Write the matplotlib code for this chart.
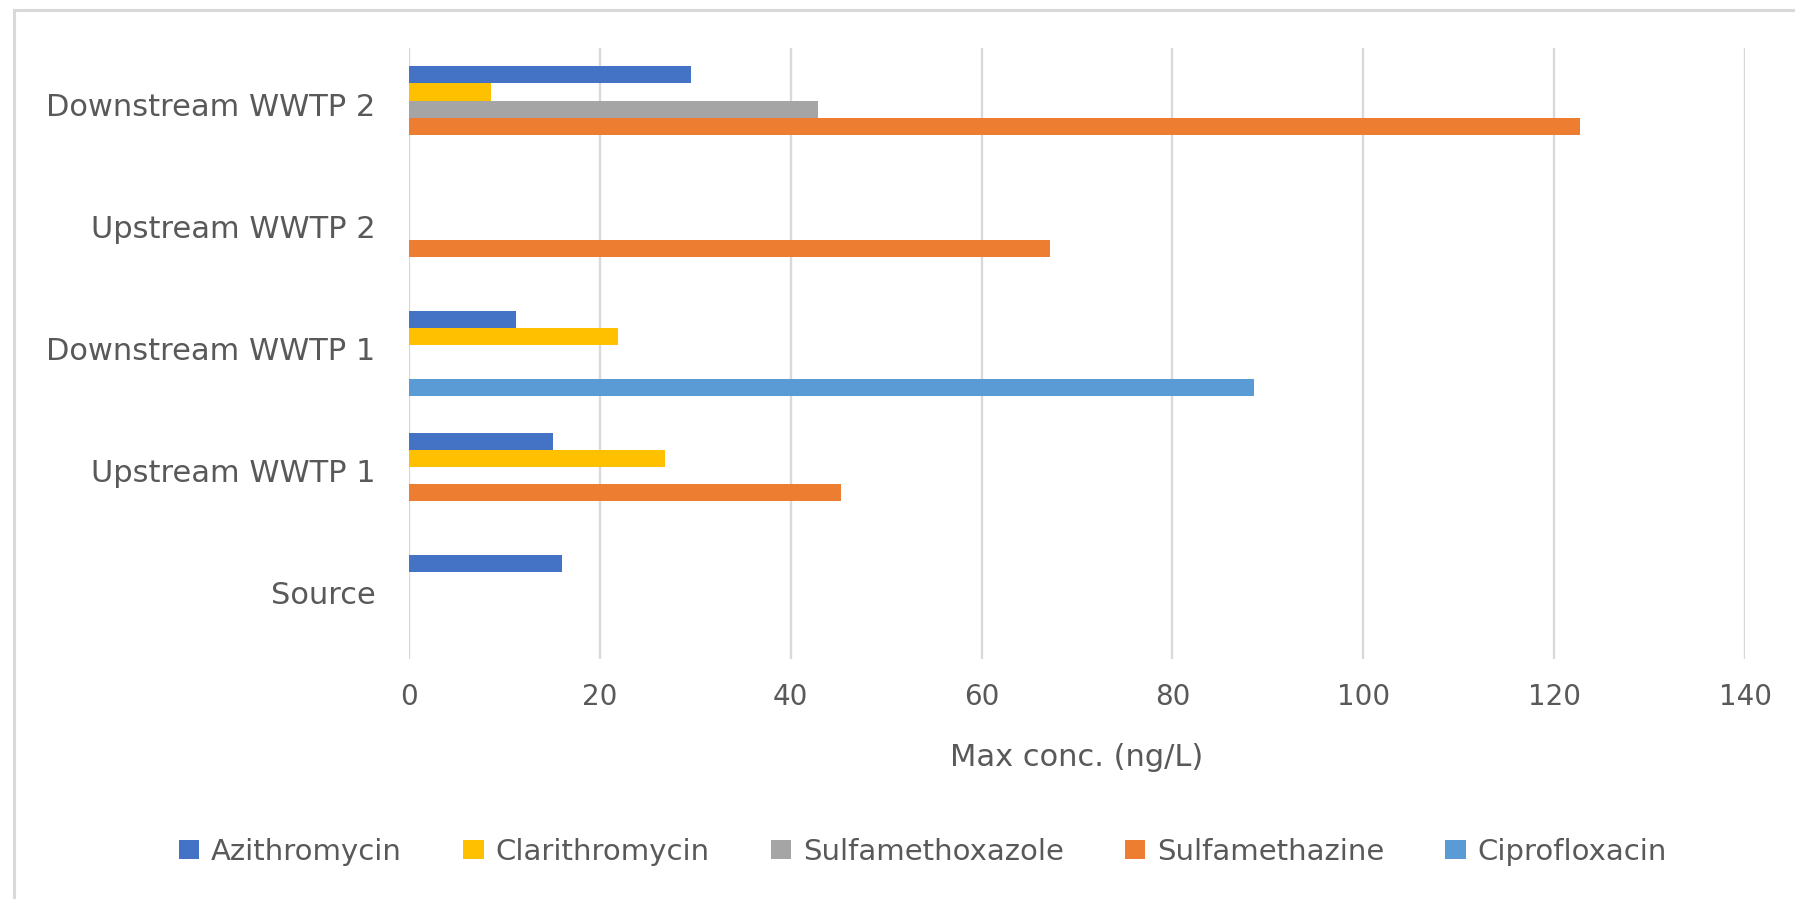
import matplotlib
matplotlib.use("Agg")
import matplotlib.pyplot as plt
import matplotlib.transforms as mtransforms
from matplotlib.lines import Line2D
from matplotlib.patches import Patch
import numpy as np

# categories bottom -> top (as drawn)
sites = ['Source', 'Upstream WWTP 1', 'Downstream WWTP 1', 'Upstream WWTP 2', 'Downstream WWTP 2']

# max concentration (ng/L) per site
azithromycin = [16.0, 15.1, 11.2, 0, 29.6]
clarithromycin = [0, 26.8, 21.9, 0, 8.6]
sulfamethoxazole = [0, 0, 0, 0, 42.9]
sulfamethazine = [0, 45.3, 0, 67.2, 122.7]
ciprofloxacin = [0, 0, 88.6, 0, 0]

series_names = ['Azithromycin', 'Clarithromycin', 'Sulfamethoxazole', 'Sulfamethazine', 'Ciprofloxacin']
series_vals = [azithromycin, clarithromycin, sulfamethoxazole, sulfamethazine, ciprofloxacin]
colors = ['#4472C4', '#FFC000', '#A5A5A5', '#ED7D31', '#5B9BD5']

xticks = [0, 20, 40, 60, 80, 100, 120, 140]

txt = '#595959'
plt.rcParams['font.family'] = ['DejaVu Sans']

W, H = 1795, 899
fig = plt.figure(figsize=(W / 100, H / 100), dpi=100)
fig.patch.set_facecolor('white')

# plot area in pixels
left, right, top, bottom = 409, 1745, 48, 659
ax = fig.add_axes([left / W, 1 - bottom / H, (right - left) / W, (bottom - top) / H])

y = np.arange(len(sites))
h = 0.14
for j, (name, vals) in enumerate(zip(series_names, series_vals)):
    ax.barh(y + (2 - j) * h, vals, height=h, color=colors[j], label=name, zorder=3)

ax.set_xlim(0, 140)
ax.set_ylim(-0.5, 4.5)
ax.set_xticks(xticks)
ax.set_xticklabels([str(t) for t in xticks])
ax.set_yticks(y)
ax.set_yticklabels(sites)
ax.tick_params(axis='x', length=0, pad=17, labelsize=20, labelcolor=txt)
ax.tick_params(axis='y', length=0, pad=24, labelsize=22, labelcolor=txt)
ax.grid(axis='x', color='#D9D9D9', linewidth=1.7, zorder=0)
ax.set_axisbelow(True)
for s in ax.spines.values():
    s.set_visible(False)

# category labels sit a little above the group centre
shift = mtransforms.ScaledTranslation(0, 0.05, fig.dpi_scale_trans)
for lab in ax.get_yticklabels():
    lab.set_transform(lab.get_transform() + shift)

ax.set_xlabel('Max conc. (ng/L)', fontsize=22, color=txt)
ax.xaxis.set_label_coords(0.5, (bottom - 743) / (bottom - top))

handles = [Patch(facecolor=c, edgecolor='none') for c in colors]
fig.legend(handles, series_names, loc='center', bbox_to_anchor=(923 / W, 1 - 852 / H),
           ncol=5, frameon=False, fontsize=21, labelcolor=txt,
           handlelength=0.7, handleheight=0.62, handletextpad=0.4, columnspacing=2.1)

# chart area border (top and left visible)
fig.add_artist(Line2D([13.5 / W, 1], [1 - 9.5 / H, 1 - 9.5 / H], transform=fig.transFigure,
                      color='#D9D9D9', linewidth=2.2))
fig.add_artist(Line2D([13.5 / W, 13.5 / W], [0, 1 - 9.5 / H], transform=fig.transFigure,
                      color='#D9D9D9', linewidth=2.2))

fig.savefig('out.png', dpi=100)
